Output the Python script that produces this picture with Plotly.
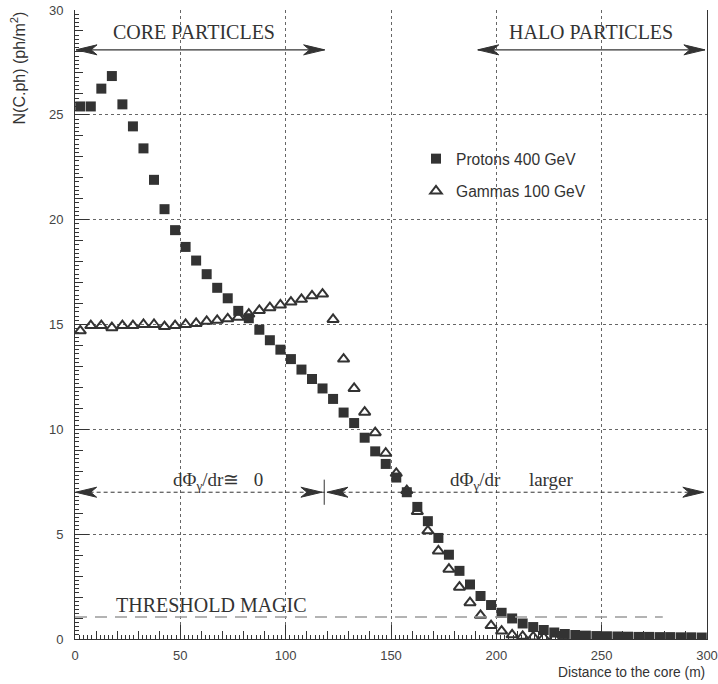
import plotly.graph_objects as go

# ---------------- data ----------------
proton_r = [2.5 + 5 * i for i in range(60)]
proton_n = [25.4, 25.4, 26.25, 26.85, 25.5, 24.45, 23.4, 21.9, 20.5, 19.5,
            18.7, 18.05, 17.4, 16.75, 16.25, 15.65, 15.3, 14.75, 14.25, 13.8,
            13.35, 12.85, 12.4, 11.95, 11.45, 10.8, 10.3, 9.6, 8.95, 8.35,
            7.7, 7.0, 6.3, 5.62, 4.82, 4.02, 3.25, 2.6, 2.05, 1.62,
            1.25, 0.98, 0.74, 0.57, 0.43, 0.31, 0.24, 0.19, 0.16, 0.14,
            0.13, 0.12, 0.11, 0.1, 0.1, 0.09, 0.09, 0.08, 0.08, 0.07]

gamma_r = [2.5 + 5 * i for i in range(46)]
gamma_n = [14.7, 14.95, 14.95, 14.85, 14.95, 14.95, 15.0, 15.0, 14.9, 14.95,
           15.0, 15.05, 15.15, 15.2, 15.27, 15.35, 15.5, 15.67, 15.8, 15.93,
           16.07, 16.2, 16.37, 16.45, 15.24, 13.35, 11.95, 10.82, 9.84, 8.86,
           7.9, 7.08, 6.08, 5.16, 4.2, 3.33, 2.47, 1.73, 1.13, 0.64,
           0.38, 0.2, 0.13, 0.1, 0.07, 0.05]

x_ticks = [0, 50, 100, 150, 200, 250, 300]
y_ticks = [0, 5, 10, 15, 20, 25, 30]
threshold = 1.05

SERIF = "Liberation Serif, Times New Roman, serif"
SANS = "Liberation Sans, Arial, Helvetica, sans-serif"
INK = "#333333"

L, R, T, B = 75, 11, 10, 45
W, H = 718, 684
PW, PH = W - L - R, H - T - B
XPX = 300.0 / PW   # data units per pixel (x)
YPX = 30.0 / PH    # data units per pixel (y)

fig = go.Figure()

fig.add_trace(go.Scatter(
    x=proton_r, y=proton_n, mode="markers", name="Protons 400 GeV",
    legendgroup="p",
    marker=dict(symbol="square", size=10, color=INK, line=dict(width=0))))
fig.add_trace(go.Scatter(
    x=gamma_r, y=gamma_n, mode="markers", name="Gammas 100 GeV",
    legendgroup="g",
    marker=dict(symbol="triangle-up-open", size=10, color=INK,
                line=dict(width=2, color=INK))))
# dummy trace so the fine-tick overlay axes get drawn
fig.add_trace(go.Scatter(x=[None], y=[None], xaxis="x2", yaxis="y2",
                         showlegend=False, hoverinfo="skip"))

shapes = []


def head(xt, yt, direction):
    """filled dart arrow head, tip at (xt, yt), direction +1 right / -1 left"""
    ln, nt, hw = 21 * XPX, 15 * XPX, 5 * YPX
    bx = xt - direction * ln
    nx = xt - direction * nt
    path = (f"M {xt},{yt} L {bx},{yt + hw} L {nx},{yt} "
            f"L {bx},{yt - hw} Z")
    return dict(type="path", path=path, xref="x", yref="y",
                fillcolor=INK, line=dict(color=INK, width=1), layer="above")


def hline(x0, x1, y, dash="solid", color=INK, width=1.2):
    return dict(type="line", x0=x0, x1=x1, y0=y, y1=y, xref="x", yref="y",
                line=dict(color=color, width=width, dash=dash), layer="above")


# CORE PARTICLES arrow
y_top = 28.1
shapes += [hline(0.5, 118.5, y_top), head(0.5, y_top, -1), head(118.5, y_top, 1)]
# HALO PARTICLES arrow
shapes += [hline(191.2, 299, y_top), head(191.2, y_top, -1), head(299, y_top, 1)]
# dashed row
y_mid = 7.0
shapes += [hline(0.3, 298.5, y_mid, dash="4px,3px", width=1),
           head(0.3, y_mid, -1), head(117.2, y_mid, 1),
           head(119.6, y_mid, -1), head(298.5, y_mid, 1),
           dict(type="line", x0=118.3, x1=118.3, y0=6.4, y1=7.6,
                xref="x", yref="y", line=dict(color=INK, width=1))]
# threshold line
shapes += [hline(0, 279, threshold, dash="12px,8px", color="#9a9a9a", width=1.5)]

annotations = [
    dict(text="CORE PARTICLES", x=56.5, y=28.94, xref="x", yref="y",
         showarrow=False, font=dict(family=SERIF, size=20, color=INK)),
    dict(text="HALO PARTICLES", x=244.7, y=28.94, xref="x", yref="y",
         showarrow=False, font=dict(family=SERIF, size=20, color=INK)),
    dict(text="dΦ<sub>γ</sub>/dr≅   0", x=68.1, y=7.55, xref="x", yref="y",
         showarrow=False, font=dict(family=SERIF, size=19, color=INK)),
    dict(text="dΦ<sub>γ</sub>/dr      larger", x=207.6, y=7.55, xref="x", yref="y",
         showarrow=False, font=dict(family=SERIF, size=19, color=INK)),
    dict(text="THRESHOLD MAGIC", x=65, y=1.62, xref="x", yref="y",
         showarrow=False, font=dict(family=SERIF, size=20, color=INK)),
    dict(text="N(C.ph) (ph/m<sup>2</sup>)", textangle=-90,
         x=-57 / PW, y=1.0, xref="paper", yref="paper",
         xanchor="center", yanchor="top", showarrow=False,
         font=dict(family=SANS, size=16, color=INK)),
    dict(text="Distance to the core (m)", x=1.0, y=-34 / PH,
         xref="paper", yref="paper", xanchor="right", yanchor="middle",
         showarrow=False, font=dict(family=SANS, size=13.8, color=INK)),
]

fig.update_layout(
    width=W, height=H,
    margin=dict(l=L, r=R, t=T, b=B, autoexpand=False),
    paper_bgcolor="white", plot_bgcolor="white",
    shapes=shapes, annotations=annotations,
    showlegend=True,
    legend=dict(x=(416 - 75) / PW, y=(639 - 142) / PH, xanchor="left",
                yanchor="top", bgcolor="rgba(0,0,0,0)",
                font=dict(family=SANS, size=15.6, color=INK),
                traceorder="grouped", tracegroupgap=9, itemwidth=30),
    xaxis=dict(range=[0, 300], tickvals=x_ticks, automargin=False,
               ticktext=[str(v) for v in x_ticks], ticklabeloverflow="allow",
               ticks="inside", ticklen=14, tickcolor=INK, tickwidth=1,
               showline=True, linecolor=INK, linewidth=1, mirror=False,
               showgrid=True, gridcolor="#666666", griddash="dot", gridwidth=1,
               zeroline=False, ticklabelstandoff=4,
               tickfont=dict(family=SANS, size=13, color="#444444"),
               minor=dict(dtick=10, ticks="inside", ticklen=8,
                          tickcolor=INK, showgrid=False)),
    yaxis=dict(range=[0, 30], tickvals=y_ticks, automargin=False,
               ticktext=[str(v) for v in y_ticks], ticklabeloverflow="allow",
               ticks="inside", ticklen=14, tickcolor=INK, tickwidth=1,
               showline=True, linecolor=INK, linewidth=1, mirror=True,
               showgrid=True, gridcolor="#666666", griddash="dot", gridwidth=1,
               zeroline=False, ticklabelstandoff=8,
               tickfont=dict(family=SANS, size=13, color="#444444"),
               minor=dict(dtick=1, ticks="inside", ticklen=8,
                          tickcolor=INK, showgrid=False)),
    xaxis2=dict(range=[0, 300], overlaying="x", anchor="y2", side="bottom",
                dtick=2, tick0=0, ticks="inside", ticklen=4, tickcolor=INK,
                showticklabels=False, showgrid=False, zeroline=False,
                showline=False, automargin=False),
    yaxis2=dict(range=[0, 30], overlaying="y", anchor="x2", side="left",
                dtick=0.2, tick0=0, ticks="inside", ticklen=4, tickcolor=INK,
                showticklabels=False, showgrid=False, zeroline=False,
                showline=False, automargin=False),
)

fig.write_html("out.html", config={"displayModeBar": False},
               post_script="document.body.style.margin='0';")
